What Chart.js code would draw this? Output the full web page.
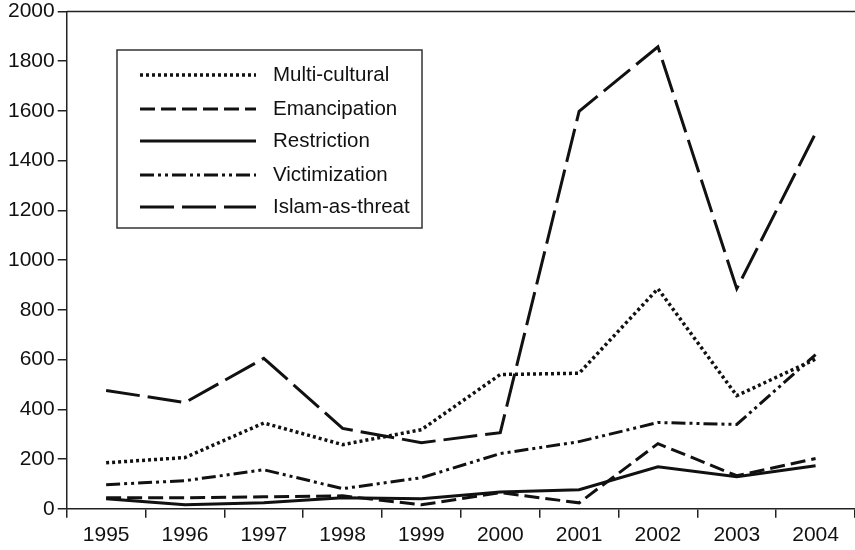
<!DOCTYPE html>
<html>
<head>
<meta charset="utf-8">
<script src="https://cdn.jsdelivr.net/npm/chart.js@4"></script>
<style>
html,body{margin:0;padding:0;background:#fff;overflow:hidden;}
#wrap{width:855px;height:550px;}
</style>
</head>
<body>
<div id="wrap"><canvas id="c" width="855" height="550"></canvas></div>
<script>
const years = ['1995','1996','1997','1998','1999','2000','2001','2002','2003','2004'];
const multiCultural = [185, 206, 345, 258, 318, 540, 545, 885, 455, 602];
const emancipation = [44, 44, 48, 52, 16, 65, 24, 262, 133, 202];
const restriction = [40, 16, 24, 44, 40, 68, 77, 169, 129, 173];
const victimization = [97, 113, 157, 81, 125, 222, 270, 347, 339, 620];
const islamAsThreat = [476, 427, 605, 323, 266, 306, 1598, 1858, 885, 1510];
const yTicks = [0, 200, 400, 600, 800, 1000, 1200, 1400, 1600, 1800, 2000];

const FONT = 'Liberation Sans, Arial, Helvetica, sans-serif';
const INK = '#111';

function ds(label, data, dash, width) {
  return {
    label, data,
    borderColor: INK, backgroundColor: INK,
    borderWidth: width, borderDash: dash,
    borderCapStyle: 'butt', borderJoinStyle: 'miter',
    pointRadius: 0, tension: 0, fill: false
  };
}

const topBorder = {
  id: 'topBorder',
  afterDatasetsDraw(chart) {
    const ctx = chart.ctx, a = chart.chartArea;
    ctx.save();
    ctx.strokeStyle = '#222';
    ctx.lineWidth = 1.5;
    ctx.beginPath();
    ctx.moveTo(a.left, a.top);
    ctx.lineTo(chart.width, a.top);
    ctx.stroke();
    ctx.restore();
  }
};

const legendBox = {
  id: 'legendBox',
  afterDraw(chart) {
    const ctx = chart.ctx;
    const x0 = 117, y0 = 50, w = 305, h = 178;
    ctx.save();
    ctx.fillStyle = '#fff';
    ctx.fillRect(x0, y0, w, h);
    ctx.strokeStyle = '#333';
    ctx.lineWidth = 1.5;
    ctx.setLineDash([]);
    ctx.strokeRect(x0, y0, w, h);
    const rows = [75, 109, 141, 175, 207];
    chart.data.datasets.forEach((d, i) => {
      const y = rows[i];
      ctx.beginPath();
      ctx.strokeStyle = INK;
      ctx.lineWidth = d.borderWidth;
      ctx.lineCap = 'butt';
      ctx.setLineDash(d.borderDash || []);
      ctx.moveTo(140, y);
      ctx.lineTo(256, y);
      ctx.stroke();
      ctx.setLineDash([]);
      ctx.fillStyle = INK;
      ctx.font = '20.5px ' + FONT;
      ctx.textBaseline = 'middle';
      ctx.textAlign = 'left';
      ctx.fillText(d.label, 273, y);
    });
    ctx.restore();
  }
};

new Chart(document.getElementById('c'), {
  type: 'line',
  data: {
    labels: years,
    datasets: [
      ds('Multi-cultural', multiCultural, [3, 3], 3.5),
      ds('Emancipation', emancipation, [15, 6], 3),
      ds('Restriction', restriction, [], 3),
      ds('Victimization', victimization, [14, 4, 3, 4, 3, 4], 3),
      ds('Islam-as-threat', islamAsThreat, [34, 8], 3)
    ]
  },
  options: {
    responsive: false,
    animation: false,
    events: [],
    layout: { padding: { left: 5, right: -3, top: 11, bottom: -3 } },
    plugins: { legend: { display: false }, tooltip: { enabled: false } },
    scales: {
      x: {
        type: 'category',
        offset: true,
        grid: { offset: true, drawOnChartArea: false, drawTicks: true, tickLength: 9, color: '#222', lineWidth: 1.5 },
        border: { display: true, color: '#222', width: 1.5 },
        ticks: { color: INK, font: { family: FONT, size: 21 }, padding: 5, maxRotation: 0, autoSkip: false }
      },
      y: {
        min: 0, max: 2000,
        afterBuildTicks(axis) { axis.ticks = yTicks.map(v => ({ value: v })); },
        grid: { drawOnChartArea: false, drawTicks: true, tickLength: 9, color: '#222', lineWidth: 1.5 },
        border: { display: true, color: '#222', width: 1.5 },
        ticks: { color: INK, font: { family: FONT, size: 21, lineHeight: 0.8 }, padding: 3, callback: v => String(v) }
      }
    }
  },
  plugins: [topBorder, legendBox]
});
</script>
</body>
</html>
